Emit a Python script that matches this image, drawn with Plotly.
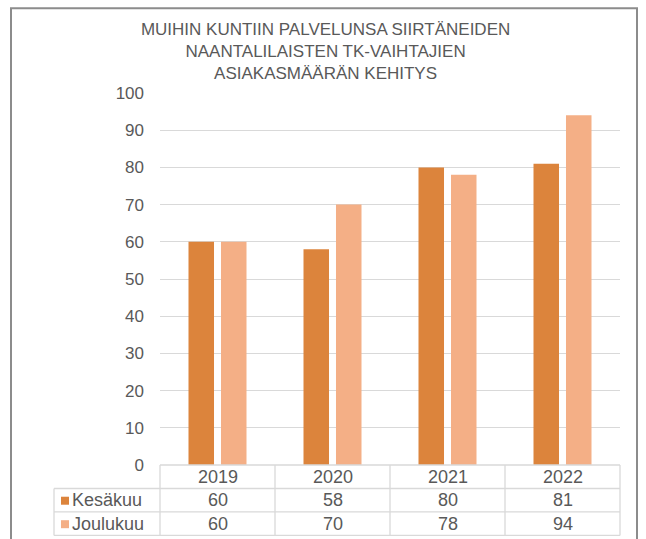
import plotly.graph_objects as go

title_lines = ["MUIHIN KUNTIIN PALVELUNSA SIIRTÄNEIDEN",
               "NAANTALILAISTEN TK-VAIHTAJIEN",
               "ASIAKASMÄÄRÄN KEHITYS"]
years = ["2019", "2020", "2021", "2022"]
series_names = ["Kesäkuu", "Joulukuu"]
kesakuu = [60, 58, 80, 81]
joulukuu = [60, 70, 78, 94]
y_ticks = [0, 10, 20, 30, 40, 50, 60, 70, 80, 90, 100]

colors = ["#DC843C", "#F4AF86"]
text_col = "#595959"
line_col = "#D9D9D9"
FONT = "Liberation Sans, Arial, sans-serif"

W, H = 646, 539
L, R, T, B = 160, 26, 92.7, 74
plot_h = H - T - B
plot_w = W - L - R

def py2paper(py):
    return (H - B - py) / plot_h

def px2paper(px):
    return (px - L) / plot_w

fig = go.Figure()
for name, vals, c in zip(series_names, [kesakuu, joulukuu], colors):
    fig.add_trace(go.Bar(x=years, y=vals, name=name, marker_color=c,
                         marker_line_width=0))

fig.update_layout(
    width=W, height=H,
    margin=dict(l=L, r=R, t=T, b=B),
    paper_bgcolor="white", plot_bgcolor="white",
    barmode="group", bargap=0.435, bargroupgap=0.215,
    showlegend=False,
    font=dict(family=FONT, color=text_col),
    title=dict(text="<br>".join(title_lines), x=0.504, xanchor="center",
               xref="container", y=1 - 35 / H, yanchor="top", yref="container",
               font=dict(size=17, color=text_col, family=FONT)),
)
fig.update_xaxes(type="category", range=[-0.5, 3.5], showticklabels=False,
                 showgrid=False, zeroline=False, showline=False, ticks="")
fig.update_yaxes(range=[0, 100], tickvals=y_ticks, showgrid=True,
                 gridcolor=line_col, gridwidth=1.3, zeroline=False,
                 showline=False, ticks="", ticklabelstandoff=15,
                 tickfont=dict(size=17, color=text_col, family=FONT))

shapes = []
# outer border
shapes.append(dict(type="rect", xref="paper", yref="paper",
                   x0=px2paper(11), x1=px2paper(637), y0=py2paper(560), y1=py2paper(8),
                   line=dict(color="#8C8C8C", width=2), fillcolor="rgba(0,0,0,0)",
                   layer="below"))
# table geometry
rows_py = [465, 488.5, 512, 535.5]
lab_left = px2paper(54)
shapes.append(dict(type="line", xref="paper", yref="paper", x0=0, x1=1,
                   y0=py2paper(rows_py[0]), y1=py2paper(rows_py[0]),
                   line=dict(color=line_col, width=1.3)))
for py in rows_py[1:]:
    shapes.append(dict(type="line", xref="paper", yref="paper", x0=lab_left, x1=1,
                       y0=py2paper(py), y1=py2paper(py),
                       line=dict(color=line_col, width=1.3)))
n = len(years)
for i in range(n + 1):
    xp = i / n
    shapes.append(dict(type="line", xref="paper", yref="paper", x0=xp, x1=xp,
                       y0=py2paper(rows_py[0]), y1=py2paper(rows_py[-1]),
                       line=dict(color=line_col, width=1.3)))
shapes.append(dict(type="line", xref="paper", yref="paper", x0=lab_left, x1=lab_left,
                   y0=py2paper(rows_py[1]), y1=py2paper(rows_py[-1]),
                   line=dict(color=line_col, width=1.3)))

annotations = []
for i, yr in enumerate(years):
    annotations.append(dict(x=i, xref="x", y=py2paper((rows_py[0] + rows_py[1]) / 2),
                            yref="paper", text=yr, showarrow=False,
                            xanchor="center", yanchor="middle",
                            font=dict(size=18, color=text_col, family=FONT)))
for r, (name, vals, c) in enumerate(zip(series_names, [kesakuu, joulukuu], colors)):
    yc = (rows_py[r + 1] + rows_py[r + 2]) / 2
    shapes.append(dict(type="rect", xref="paper", yref="paper",
                       x0=px2paper(61), x1=px2paper(69),
                       y0=py2paper(yc + 4.5), y1=py2paper(yc - 3.5),
                       fillcolor=c, line=dict(width=0)))
    annotations.append(dict(x=px2paper(70), xref="paper", y=py2paper(yc), yref="paper",
                            text=name, showarrow=False, xanchor="left",
                            yanchor="middle",
                            font=dict(size=18, color=text_col, family=FONT)))
    for i, v in enumerate(vals):
        annotations.append(dict(x=i, xref="x", y=py2paper(yc), yref="paper",
                                text=str(v), showarrow=False, xanchor="center",
                                yanchor="middle",
                                font=dict(size=18, color=text_col, family=FONT)))

fig.update_layout(shapes=shapes, annotations=annotations)
fig.write_html("out.html", config={"displayModeBar": False},
               post_script="document.body.style.margin='0';document.body.style.padding='0';")
